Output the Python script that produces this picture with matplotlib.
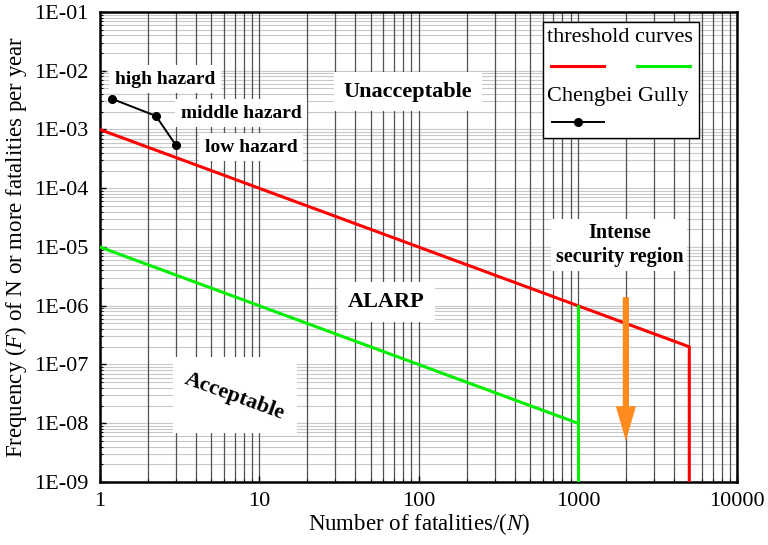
import numpy as np
import matplotlib
matplotlib.use("Agg")
import matplotlib.pyplot as plt
from matplotlib.ticker import LogLocator, FuncFormatter, NullFormatter
from matplotlib.patches import Rectangle, FancyArrowPatch
from matplotlib.lines import Line2D

plt.rcParams["font.family"] = ["Liberation Serif", "DejaVu Serif"]
plt.rcParams["mathtext.fontset"] = "custom"
plt.rcParams["mathtext.rm"] = "Liberation Serif"
plt.rcParams["mathtext.it"] = "Liberation Serif:italic"

# ============================================================
# Data
# ============================================================
# upper threshold (unacceptable / ALARP boundary): F = 1e-3 / N, cut at N = 5000
red_n = [1, 5000, 5000]
red_f = [1e-3, 2e-7, 1e-9]
# lower threshold (ALARP / acceptable boundary): F = 1e-5 / N, cut at N = 1000
green_n = [1, 1000]
green_f = [1e-5, 1e-8]
green_cut_n = [1000, 1000]
green_cut_f = [1e-6, 1e-9]
# Chengbei Gully hazard levels
gully_n = [1.2, 2.25, 3.0]
gully_f = [3.3e-3, 1.7e-3, 5.4e-4]
gully_labels = ["high hazard", "middle hazard", "low hazard"]
gully_label_pos = [(2.56, 7.2e-3), (7.7, 1.9e-3), (8.9, 5.0e-4)]
# orange arrow in the intense security region
arrow_n = 2000
arrow_f = [1.4e-6, 5.0e-9]

RED = "#FF0000"
GREEN = "#00EE00"
ORANGE = "#FF8A1E"

fig = plt.figure(figsize=(7.68, 5.45), dpi=100)
ax = fig.add_axes([0.130, 0.1156, 0.830, 0.8624])

ax.set_xscale("log")
ax.set_yscale("log")
ax.set_xlim(1, 10000)
ax.set_ylim(1e-9, 1e-1)

ax.xaxis.set_minor_locator(LogLocator(base=10, subs=np.arange(2, 10), numticks=100))
ax.yaxis.set_minor_locator(LogLocator(base=10, subs=np.arange(2, 10), numticks=100))
ax.yaxis.set_major_locator(LogLocator(base=10, numticks=100))
ax.xaxis.set_minor_formatter(NullFormatter())
ax.yaxis.set_minor_formatter(NullFormatter())
ax.yaxis.set_major_formatter(FuncFormatter(lambda v, p: f"1E-{-int(round(np.log10(v))):02d}"))
ax.xaxis.set_major_formatter(FuncFormatter(lambda v, p: f"{int(round(v))}"))

ax.set_axisbelow(True)
ax.grid(which="both", axis="y", color="#c8c8c8", lw=0.8)
ax.grid(which="both", axis="x", color="#505050", lw=0.9)
ax.yaxis.set_zorder(0.4)

ax.tick_params(which="both", direction="in", labelsize=16, colors="black")
ax.tick_params(which="major", length=4, width=1)
ax.tick_params(which="minor", length=2, width=0.8)
ax.tick_params(axis="x", pad=7)
ax.tick_params(axis="y", pad=8)
for s in ax.spines.values():
    s.set_linewidth(1.8)
    s.set_color("black")

ax.set_xlabel("Number of fatalities/($\\mathit{N}$)", fontsize=16.5, labelpad=0.5)
ax.set_ylabel("Frequency ($\\mathit{F}$) of N or more fatalities per year", fontsize=16.5, labelpad=4)

# threshold curves
ax.plot(red_n, red_f, color=RED, lw=2.2, zorder=3)
ax.plot(green_n, green_f, color=GREEN, lw=2.2, zorder=3)
ax.plot(green_cut_n, green_cut_f, color=GREEN, lw=2.2, zorder=3)

# Chengbei Gully points
ax.plot(gully_n, gully_f, color="black", lw=1.4, marker="o", ms=5.5, zorder=4)

box = dict(facecolor="white", edgecolor="none", pad=4)
for lab, (x, y) in zip(gully_labels, gully_label_pos):
    ax.text(x, y, lab, fontsize=14, fontweight="bold", ha="center", va="center", bbox=box, zorder=2)

big = dict(facecolor="white", edgecolor="none", pad=7)
ax.text(86, 4.4e-3, "Unacceptable", fontsize=16, fontweight="bold", ha="center", va="center",
        bbox=big, zorder=2)
ax.text(63, 1.15e-6, "ALARP", fontsize=16, fontweight="bold", ha="center", va="center",
        bbox=big, zorder=2)
ax.text(1820, 1.07e-5, "Intense\nsecurity region", fontsize=14.5, fontweight="bold", ha="center",
        va="center", linespacing=1.25, bbox=dict(facecolor="white", edgecolor="none", pad=3), zorder=2)

# upright white patch behind the slanted "Acceptable" label
ax.add_patch(Rectangle((0.1146, 0.104), 0.195, 0.162, transform=ax.transAxes,
                       facecolor="white", edgecolor="none", zorder=1.5))
ax.text(7.0, 2.8e-8, "Acceptable", fontsize=16, fontweight="bold", ha="center", va="center",
        rotation=-20, rotation_mode="anchor", zorder=2)

arrow = FancyArrowPatch((arrow_n, arrow_f[0]), (arrow_n, arrow_f[1]),
                        arrowstyle="simple,head_length=2.5,head_width=1.45,tail_width=0.45",
                        mutation_scale=10, color=ORANGE, lw=0, shrinkA=0, shrinkB=0, zorder=5)
ax.add_patch(arrow)

# legend (custom layout: title row, two threshold samples, then gully entry)
ax.add_patch(Rectangle((0.695, 0.732), 0.245, 0.247, transform=ax.transAxes,
                       facecolor="white", edgecolor="black", lw=1.0, zorder=6))
ax.text(0.702, 0.945, "threshold curves", transform=ax.transAxes, fontsize=16,
        ha="left", va="center", zorder=7)
ax.add_line(Line2D([0.708, 0.791], [0.885, 0.885], transform=ax.transAxes, color=RED, lw=2.2, zorder=7))
ax.add_line(Line2D([0.843, 0.926], [0.885, 0.885], transform=ax.transAxes, color=GREEN, lw=2.2, zorder=7))
ax.text(0.702, 0.821, "Chengbei Gully", transform=ax.transAxes, fontsize=16,
        ha="left", va="center", zorder=7)
ax.add_line(Line2D([0.710, 0.791], [0.766, 0.766], transform=ax.transAxes, color="black", lw=1.4, zorder=7))
ax.add_line(Line2D([0.750], [0.766], transform=ax.transAxes, color="black", marker="o", ms=5.5, zorder=7))

fig.savefig("out.png", dpi=100)
